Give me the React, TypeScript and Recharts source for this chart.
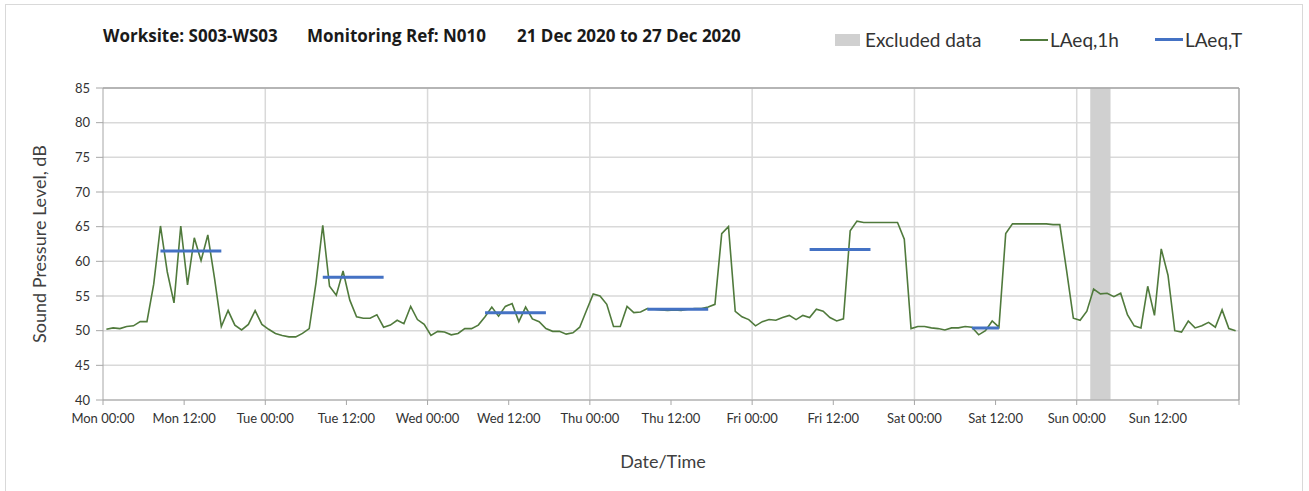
import {
  ComposedChart,
  Line,
  XAxis,
  YAxis,
  CartesianGrid,
  ReferenceArea,
  ReferenceLine,
  Legend,
} from 'recharts'

// hourly LAeq,1h values, Mon 00:00 .. Sun 23:00
const laeq1h = [
  50.2, 50.4, 50.3, 50.6, 50.7, 51.3, 51.3, 56.7, 65.1, 58.5, 54.0, 65.1, 56.6, 63.4, 60.1, 63.8, 57.5, 50.6, 52.9, 50.8, 50.1, 50.9, 52.9, 50.9,
  50.2, 49.6, 49.3, 49.1, 49.1, 49.6, 50.3, 56.9, 65.2, 56.4, 55.1, 58.6, 54.4, 52.0, 51.8, 51.8, 52.3, 50.5, 50.8, 51.5, 51.0, 53.5, 51.6, 50.9,
  49.3, 49.9, 49.8, 49.4, 49.6, 50.3, 50.3, 50.8, 52.0, 53.4, 52.1, 53.5, 53.9, 51.3, 53.4, 51.7, 51.3, 50.3, 49.9, 49.9, 49.5, 49.7, 50.5, 52.9,
  55.3, 55.0, 53.8, 50.6, 50.6, 53.5, 52.6, 52.7, 53.2, 53.1, 53.0, 52.9, 53.0, 52.9, 53.1, 53.2, 53.2, 53.4, 53.8, 64.0, 65.0, 52.8, 52.0, 51.6,
  50.7, 51.3, 51.6, 51.5, 51.9, 52.2, 51.6, 52.2, 51.9, 53.1, 52.8, 51.9, 51.4, 51.7, 64.4, 65.8, 65.6, 65.6, 65.6, 65.6, 65.6, 65.6, 63.2, 50.3,
  50.6, 50.6, 50.4, 50.3, 50.1, 50.4, 50.4, 50.6, 50.5, 49.4, 50.0, 51.4, 50.5, 64.0, 65.4, 65.4, 65.4, 65.4, 65.4, 65.4, 65.3, 65.3, 58.7, 51.8,
  51.5, 52.8, 56.0, 55.3, 55.4, 54.9, 55.4, 52.3, 50.7, 50.4, 56.4, 52.2, 61.8, 58.0, 50.0, 49.8, 51.4, 50.4, 50.7, 51.2, 50.5, 53.0, 50.3, 50.0,
]

// LAeq,T periods (hour index from Mon 00:00)
const periodStart = [8, 32, 56, 80, 104, 128]
const periodEnd = [17, 41, 65, 89, 113, 132]
const periodValue = [61.5, 57.7, 52.6, 53.1, 61.7, 50.4]

const excludedFrom = 146
const excludedTo = 149

const days = ['Mon', 'Tue', 'Wed', 'Thu', 'Fri', 'Sat', 'Sun']
const xTicks = [0, 12, 24, 36, 48, 60, 72, 84, 96, 108, 120, 132, 144, 156, 168]
const dayLines = [24, 48, 72, 96, 120, 144]
const yTicks = [40, 45, 50, 55, 60, 65, 70, 75, 80, 85]

const titleParts = ['Worksite: S003-WS03', 'Monitoring Ref: N010', '21 Dec 2020 to 27 Dec 2020']

const GREEN = '#507a3c'
const BLUE = '#4472c4'
const GREY = '#d0d0d0'
const FONT = 'Lato, "Open Sans", sans-serif'

const data = laeq1h.map((v, h) => {
  const p = periodStart.findIndex((s, i) => h >= s && h <= periodEnd[i])
  return { t: h + 0.5, laeq1h: v, laeqT: p >= 0 ? periodValue[p] : null }
})

const fmtTick = (v: number) => {
  if (v >= 168) return ''
  const d = days[Math.floor(v / 24)]
  return `${d} ${v % 24 === 0 ? '00:00' : '12:00'}`
}

function LegendBox() {
  const item = { display: 'flex', alignItems: 'center' }
  return (
    <div style={{ display: 'flex', fontFamily: FONT, fontSize: 19, color: '#333' }}>
      <div style={{ ...item, width: 185 }}>
        <span style={{ width: 25, height: 12, background: GREY, marginRight: 5 }} />
        Excluded data
      </div>
      <div style={{ ...item, width: 135 }}>
        <span style={{ width: 28, height: 2, background: GREEN, marginRight: 2 }} />
        LAeq,1h
      </div>
      <div style={item}>
        <span style={{ width: 28, height: 3, background: BLUE, marginRight: 2 }} />
        LAeq,T
      </div>
    </div>
  )
}

export default function App() {
  const titleLeft = [103, 307, 517]
  return (
    <div style={{ position: 'absolute', left: 0, top: 0, width: 1309, height: 491, background: '#fff' }}>
      <div
        style={{
          position: 'absolute',
          left: 5,
          top: 4,
          width: 1296,
          height: 500,
          border: '1px solid #d9d9d9',
        }}
      />
      {titleParts.map((s, i) => (
        <div
          key={s}
          style={{
            position: 'absolute',
            left: titleLeft[i],
            top: 24,
            fontFamily: '"Open Sans", sans-serif',
            fontWeight: 'bold',
            fontSize: 17,
            color: '#1a1a1a',
            whiteSpace: 'pre',
          }}
        >
          {s}
        </div>
      ))}
      <ComposedChart
        width={1309}
        height={491}
        data={data}
        margin={{ top: 65, right: 70, bottom: 21, left: 0 }}
        style={{ position: 'absolute', left: 0, top: 0 }}
      >
        <CartesianGrid vertical={false} stroke="#d9d9d9" strokeWidth={1.5} />
        {dayLines.map((d) => (
          <ReferenceLine key={d} x={d} stroke="#d9d9d9" strokeWidth={1.5} />
        ))}
        <ReferenceArea x1={excludedFrom} x2={excludedTo} fill={GREY} fillOpacity={1} stroke="none" />
        <ReferenceLine y={85} stroke="#a6a6a6" strokeWidth={1.5} />
        <ReferenceLine x={168} stroke="#a6a6a6" strokeWidth={1.5} />
        <XAxis
          dataKey="t"
          type="number"
          domain={[0, 168]}
          ticks={xTicks}
          tickFormatter={fmtTick}
          interval={0}
          height={70}
          tickSize={5}
          tickMargin={9}
          stroke="#a6a6a6"
          tick={{ fill: '#333', fontSize: 13, fontFamily: FONT }}
          label={{
            value: 'Date/Time',
            position: 'insideBottom',
            offset: 2,
            dx: -8,
            style: { fill: '#404040', fontSize: 18, fontFamily: FONT },
          }}
        />
        <YAxis
          type="number"
          domain={[40, 85]}
          ticks={yTicks}
          interval={0}
          width={103}
          tickSize={7}
          tickMargin={6}
          stroke="#a6a6a6"
          tick={{ fill: '#333', fontSize: 13, fontFamily: FONT }}
          label={{
            value: 'Sound Pressure Level, dB',
            angle: -90,
            position: 'insideLeft',
            offset: 40,
            style: { textAnchor: 'middle', fill: '#404040', fontSize: 18, fontFamily: FONT },
          }}
        />
        <Legend
          verticalAlign="top"
          content={() => <LegendBox />}
          wrapperStyle={{ position: 'absolute', left: 835, top: 28, width: 'auto' }}
        />
        <Line
          dataKey="laeq1h"
          name="LAeq,1h"
          stroke={GREEN}
          strokeWidth={1.6}
          dot={false}
          isAnimationActive={false}
        />
        <Line
          dataKey="laeqT"
          name="LAeq,T"
          stroke={BLUE}
          strokeWidth={3}
          dot={false}
          connectNulls={false}
          isAnimationActive={false}
        />
      </ComposedChart>
    </div>
  )
}
